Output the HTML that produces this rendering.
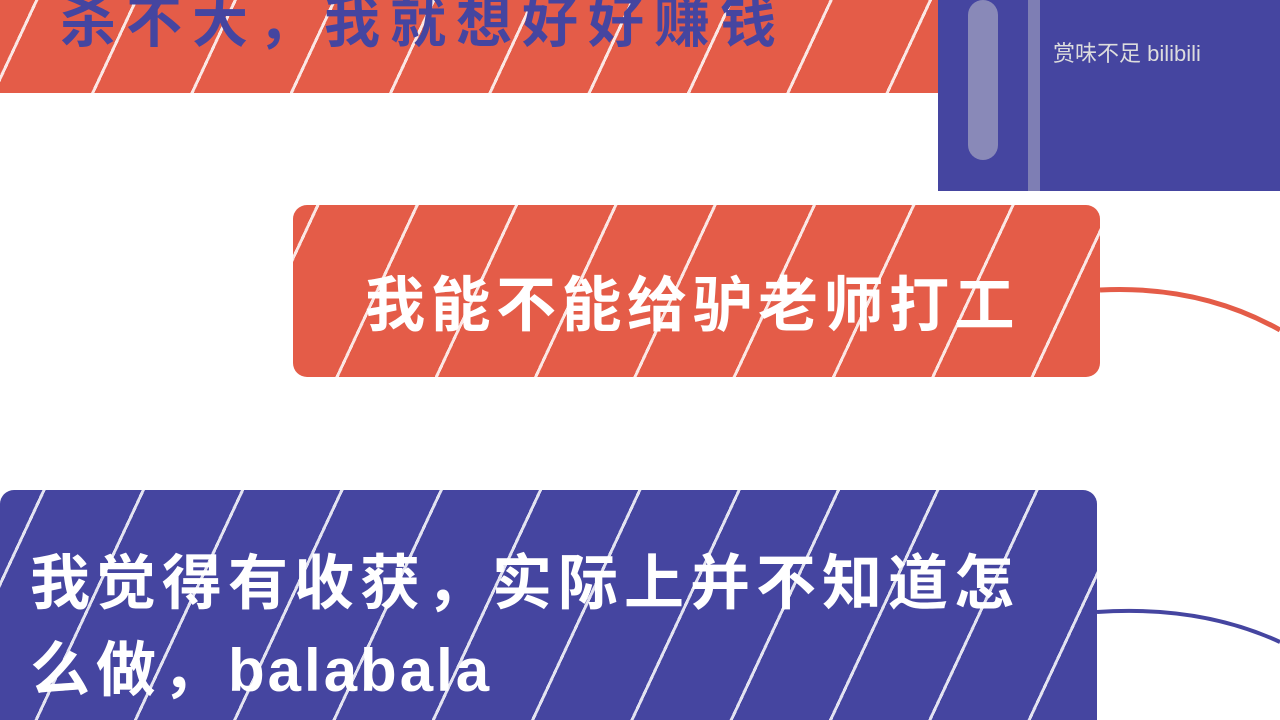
<!DOCTYPE html>
<html><head><meta charset="utf-8">
<style>
body{margin:0;width:1280px;height:720px;overflow:hidden;background:#fff;position:relative;font-family:"Liberation Sans","Noto Sans CJK SC",sans-serif;}
.box{position:absolute;}
.red{background:#e45c48;background-image:repeating-linear-gradient(-65deg,transparent 0 60px,rgba(255,255,255,.85) 60px 63px,transparent 63px 90px);}
.blue{background:#4545a0;background-image:repeating-linear-gradient(-65deg,transparent 0 60px,rgba(255,255,255,.85) 60px 63px,transparent 63px 90px);}
.t{position:absolute;white-space:nowrap;font-weight:bold;}
</style></head><body>
<div class="box red" style="left:0;top:0;width:955px;height:93px;">
  <div class="t" style="left:60px;top:-22px;font-size:56px;color:#4545a0;letter-spacing:10px;">杀不大，我就想好好赚钱</div>
</div>
<div class="box" style="left:938px;top:0;width:342px;height:191px;background:#4545a0;">
  <div style="position:absolute;left:30px;top:0;width:30px;height:160px;background:#b8b8c8;opacity:.6;border-radius:15px"></div>
  <div style="position:absolute;left:90px;top:0;width:12px;height:191px;background:#b8b8c8;opacity:.5"></div>
  <div class="t" style="left:115px;top:36px;font-size:22px;font-weight:normal;color:#ddd;">赏味不足 bilibili</div>
</div>
<div class="box red" style="left:293px;top:205px;width:807px;height:172px;border-radius:14px;">
  <div class="t" style="left:72px;top:52px;font-size:60px;color:#fff;letter-spacing:5.5px;">我能不能给驴老师打工</div>
</div>
<svg style="position:absolute;left:0;top:0" width="1280" height="720">
  <path d="M1100 290 Q1200 285 1280 330" stroke="#e45c48" stroke-width="5" fill="none"/>
  <path d="M1097 612 Q1200 605 1280 642" stroke="#4545a0" stroke-width="4" fill="none"/>
</svg>
<div class="box blue" style="left:0;top:490px;width:1097px;height:230px;border-radius:14px 14px 0 0;">
  <div class="t" style="left:30px;top:45px;font-size:60px;color:#fff;letter-spacing:6px;">我觉得有收获，实际上并不知道怎</div>
  <div class="t" style="left:30px;top:132px;font-size:60px;color:#fff;letter-spacing:6px;">么做，<span style="letter-spacing:3px">balabala</span></div>
</div>
</body></html>
